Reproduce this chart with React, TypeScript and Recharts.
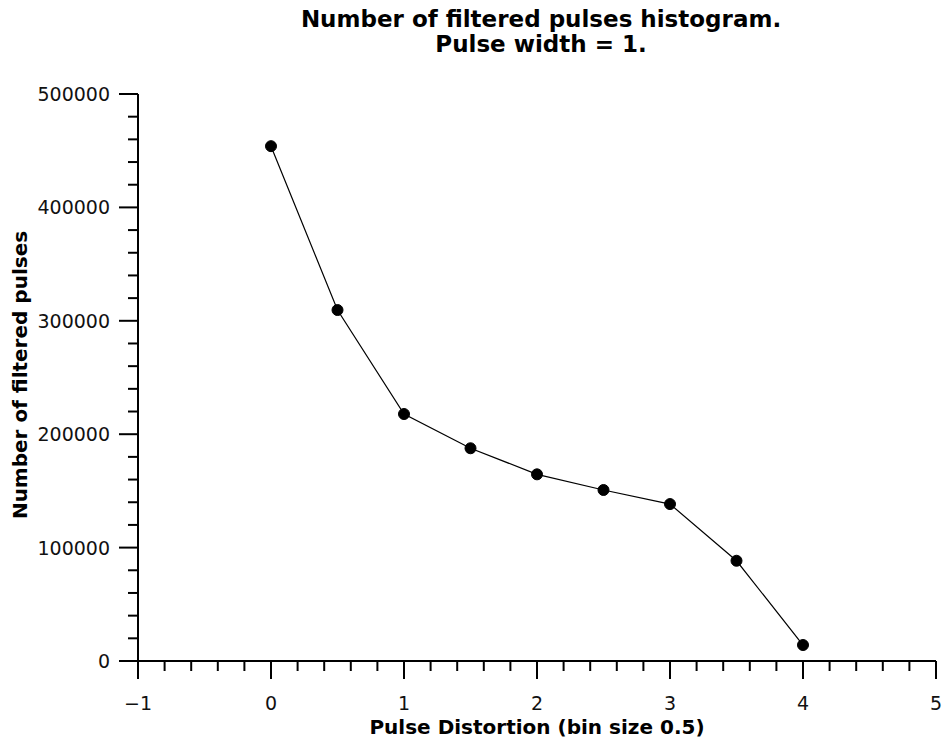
import React from "react";
import { LineChart, Line, XAxis, YAxis } from "recharts";

const distortion = [0, 0.5, 1, 1.5, 2, 2.5, 3, 3.5, 4];
const pulseCounts = [454000, 309500, 217800, 187600, 164600, 150800, 138400, 88400, 14100];

const xMajorTicks = [-1, 0, 1, 2, 3, 4, 5];
const xAllTicks = [
  -1, -0.8, -0.6, -0.4, -0.2, 0, 0.2, 0.4, 0.6, 0.8, 1, 1.2, 1.4, 1.6, 1.8, 2,
  2.2, 2.4, 2.6, 2.8, 3, 3.2, 3.4, 3.6, 3.8, 4, 4.2, 4.4, 4.6, 4.8, 5,
];
const yMajorTicks = [0, 100000, 200000, 300000, 400000, 500000];
const yAllTicks = [
  0, 20000, 40000, 60000, 80000, 100000, 120000, 140000, 160000, 180000, 200000,
  220000, 240000, 260000, 280000, 300000, 320000, 340000, 360000, 380000, 400000,
  420000, 440000, 460000, 480000, 500000,
];

const titleLines = ["Number of filtered pulses histogram.", "Pulse width = 1."];
const xLabel = "Pulse Distortion (bin size 0.5)";
const yLabel = "Number of filtered pulses";

const data = distortion.map((d, i) => ({ x: d, count: pulseCounts[i] }));

const FONT = "'DejaVu Sans', Verdana, sans-serif";

const XTick = (props: any) => {
  const { x, y, payload } = props;
  const v = payload.value;
  const major = xMajorTicks.includes(v);
  return (
    <g>
      <line x1={x} y1={y} x2={x} y2={y + (major ? 18 : 10)} stroke="#000" strokeWidth={2} />
      {major && (
        <text x={x} y={y + 42} textAnchor="middle" dominantBaseline="central" fontFamily={FONT} fontSize={19} fill="#111">
          {v < 0 ? `\u2212${Math.abs(v)}` : v}
        </text>
      )}
    </g>
  );
};

const YTick = (props: any) => {
  const { x, y, payload } = props;
  const v = payload.value;
  const major = yMajorTicks.includes(v);
  return (
    <g>
      <line x1={x} y1={y} x2={x - (major ? 19 : 10)} y2={y} stroke="#000" strokeWidth={2} />
      {major && (
        <text x={x - 28} y={y} textAnchor="end" dominantBaseline="central" fontFamily={FONT} fontSize={19} fill="#111">
          {v}
        </text>
      )}
    </g>
  );
};

export default function App() {
  return (
    <div style={{ position: "absolute", left: 0, top: 0, width: 943, height: 749, background: "#fff" }}>
      <LineChart width={943} height={749} data={data} margin={{ top: 94, right: 7, bottom: 0, left: 0 }}>
        <XAxis
          dataKey="x"
          type="number"
          domain={[-1, 5]}
          ticks={xAllTicks}
          interval={0}
          tick={<XTick />}
          tickLine={false}
          tickSize={0}
          tickMargin={0}
          height={88}
          axisLine={{ stroke: "#000", strokeWidth: 2 }}
        />
        <YAxis
          type="number"
          domain={[0, 500000]}
          ticks={yAllTicks}
          interval={0}
          tick={<YTick />}
          tickLine={false}
          tickSize={0}
          tickMargin={0}
          width={138}
          axisLine={{ stroke: "#000", strokeWidth: 2 }}
        />
        <Line
          dataKey="count"
          stroke="#000"
          strokeWidth={1.2}
          dot={{ r: 5.5, fill: "#000", stroke: "#000", strokeWidth: 1 }}
          isAnimationActive={false}
        />
      </LineChart>
      <svg width={943} height={749} style={{ position: "absolute", left: 0, top: 0, pointerEvents: "none" }}>
        <g fontFamily={FONT} fontWeight="bold" fill="#000">
          <text x={541} y={19} textAnchor="middle" dominantBaseline="central" fontSize={23}>
            {titleLines[0]}
          </text>
          <text x={541} y={44} textAnchor="middle" dominantBaseline="central" fontSize={23}>
            {titleLines[1]}
          </text>
          <text x={537} y={727} textAnchor="middle" dominantBaseline="central" fontSize={20}>
            {xLabel}
          </text>
          <text
            x={20}
            y={375}
            textAnchor="middle"
            dominantBaseline="central"
            fontSize={20}
            transform="rotate(-90 20 375)"
          >
            {yLabel}
          </text>
        </g>
      </svg>
    </div>
  );
}
